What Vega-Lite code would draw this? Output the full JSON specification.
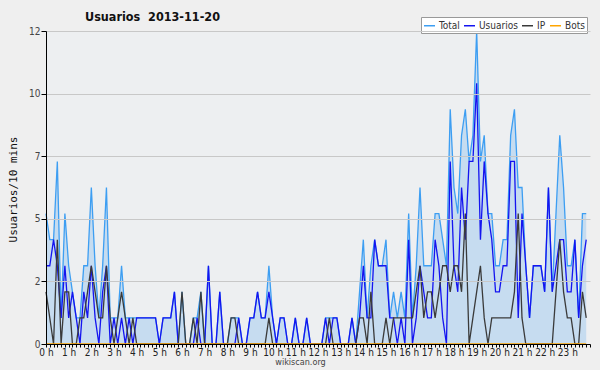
{
  "$schema": "https://vega.github.io/schema/vega-lite/v6.json",
  "width": 544,
  "height": 313,
  "autosize": {"type": "none"},
  "padding": {"left": 46, "top": 31, "right": 10, "bottom": 26},
  "background": "#efefef",
  "config": {"view": {"fill": "#edeff1", "stroke": null}, "font": "DejaVu Sans Condensed", "axis": {"labelOverlap": false}, "axisX": {"labelOverlap": false}},
  "title": {"text": "Usuarios\u00a0 2013-11-20", "anchor": "start", "frame": "group", "dx": 39, "dy": 14, "font": "DejaVu Sans Condensed", "fontSize": 12.5, "fontWeight": "bold", "color": "#111111", "offset": 7},
  "data": {"values": [
    {"s":0,"Total":5,"Usuarios":3,"IP":2,"Bots":0},{"s":1,"Total":4,"Usuarios":3,"IP":1,"Bots":0},{"s":2,"Total":4,"Usuarios":4,"IP":0,"Bots":0},{"s":3,"Total":7,"Usuarios":3,"IP":4,"Bots":0},{"s":4,"Total":1,"Usuarios":1,"IP":0,"Bots":0},{"s":5,"Total":5,"Usuarios":3,"IP":2,"Bots":0},{"s":6,"Total":3,"Usuarios":1,"IP":2,"Bots":0},{"s":7,"Total":2,"Usuarios":2,"IP":0,"Bots":0},{"s":8,"Total":1,"Usuarios":1,"IP":0,"Bots":0},{"s":9,"Total":1,"Usuarios":0,"IP":1,"Bots":0},
    {"s":10,"Total":3,"Usuarios":2,"IP":1,"Bots":0},{"s":11,"Total":3,"Usuarios":1,"IP":2,"Bots":0},{"s":12,"Total":6,"Usuarios":3,"IP":3,"Bots":0},{"s":13,"Total":3,"Usuarios":1,"IP":2,"Bots":0},{"s":14,"Total":1,"Usuarios":0,"IP":1,"Bots":0},{"s":15,"Total":3,"Usuarios":2,"IP":1,"Bots":0},{"s":16,"Total":6,"Usuarios":3,"IP":3,"Bots":0},{"s":17,"Total":1,"Usuarios":0,"IP":1,"Bots":0},{"s":18,"Total":1,"Usuarios":1,"IP":0,"Bots":0},{"s":19,"Total":1,"Usuarios":0,"IP":1,"Bots":0},
    {"s":20,"Total":3,"Usuarios":1,"IP":2,"Bots":0},{"s":21,"Total":1,"Usuarios":0,"IP":1,"Bots":0},{"s":22,"Total":1,"Usuarios":1,"IP":0,"Bots":0},{"s":23,"Total":1,"Usuarios":0,"IP":1,"Bots":0},{"s":24,"Total":1,"Usuarios":1,"IP":0,"Bots":0},{"s":25,"Total":1,"Usuarios":1,"IP":0,"Bots":0},{"s":26,"Total":1,"Usuarios":1,"IP":0,"Bots":0},{"s":27,"Total":1,"Usuarios":1,"IP":0,"Bots":0},{"s":28,"Total":1,"Usuarios":1,"IP":0,"Bots":0},{"s":29,"Total":1,"Usuarios":1,"IP":0,"Bots":0},
    {"s":30,"Total":0,"Usuarios":0,"IP":0,"Bots":0},{"s":31,"Total":1,"Usuarios":1,"IP":0,"Bots":0},{"s":32,"Total":1,"Usuarios":1,"IP":0,"Bots":0},{"s":33,"Total":1,"Usuarios":1,"IP":0,"Bots":0},{"s":34,"Total":2,"Usuarios":2,"IP":0,"Bots":0},{"s":35,"Total":0,"Usuarios":0,"IP":0,"Bots":0},{"s":36,"Total":2,"Usuarios":0,"IP":2,"Bots":0},{"s":37,"Total":0,"Usuarios":0,"IP":0,"Bots":0},{"s":38,"Total":0,"Usuarios":0,"IP":0,"Bots":0},{"s":39,"Total":1,"Usuarios":0,"IP":1,"Bots":0},
    {"s":40,"Total":1,"Usuarios":1,"IP":0,"Bots":0},{"s":41,"Total":2,"Usuarios":0,"IP":2,"Bots":0},{"s":42,"Total":0,"Usuarios":0,"IP":0,"Bots":0},{"s":43,"Total":3,"Usuarios":3,"IP":0,"Bots":0},{"s":44,"Total":0,"Usuarios":0,"IP":0,"Bots":0},{"s":45,"Total":0,"Usuarios":0,"IP":0,"Bots":0},{"s":46,"Total":2,"Usuarios":2,"IP":0,"Bots":0},{"s":47,"Total":0,"Usuarios":0,"IP":0,"Bots":0},{"s":48,"Total":0,"Usuarios":0,"IP":0,"Bots":0},{"s":49,"Total":1,"Usuarios":0,"IP":1,"Bots":0},
    {"s":50,"Total":1,"Usuarios":0,"IP":1,"Bots":0},{"s":51,"Total":1,"Usuarios":1,"IP":0,"Bots":0},{"s":52,"Total":0,"Usuarios":0,"IP":0,"Bots":0},{"s":53,"Total":0,"Usuarios":0,"IP":0,"Bots":0},{"s":54,"Total":1,"Usuarios":1,"IP":0,"Bots":0},{"s":55,"Total":1,"Usuarios":1,"IP":0,"Bots":0},{"s":56,"Total":2,"Usuarios":2,"IP":0,"Bots":0},{"s":57,"Total":1,"Usuarios":1,"IP":0,"Bots":0},{"s":58,"Total":1,"Usuarios":1,"IP":0,"Bots":0},{"s":59,"Total":3,"Usuarios":2,"IP":1,"Bots":0},
    {"s":60,"Total":1,"Usuarios":1,"IP":0,"Bots":0},{"s":61,"Total":0,"Usuarios":0,"IP":0,"Bots":0},{"s":62,"Total":1,"Usuarios":1,"IP":0,"Bots":0},{"s":63,"Total":1,"Usuarios":1,"IP":0,"Bots":0},{"s":64,"Total":0,"Usuarios":0,"IP":0,"Bots":0},{"s":65,"Total":0,"Usuarios":0,"IP":0,"Bots":0},{"s":66,"Total":1,"Usuarios":1,"IP":0,"Bots":0},{"s":67,"Total":0,"Usuarios":0,"IP":0,"Bots":0},{"s":68,"Total":0,"Usuarios":0,"IP":0,"Bots":0},{"s":69,"Total":1,"Usuarios":1,"IP":0,"Bots":0},
    {"s":70,"Total":0,"Usuarios":0,"IP":0,"Bots":0},{"s":71,"Total":0,"Usuarios":0,"IP":0,"Bots":0},{"s":72,"Total":0,"Usuarios":0,"IP":0,"Bots":0},{"s":73,"Total":0,"Usuarios":0,"IP":0,"Bots":0},{"s":74,"Total":1,"Usuarios":1,"IP":0,"Bots":0},{"s":75,"Total":1,"Usuarios":0,"IP":1,"Bots":0},{"s":76,"Total":1,"Usuarios":1,"IP":0,"Bots":0},{"s":77,"Total":1,"Usuarios":1,"IP":0,"Bots":0},{"s":78,"Total":0,"Usuarios":0,"IP":0,"Bots":0},{"s":79,"Total":0,"Usuarios":0,"IP":0,"Bots":0},
    {"s":80,"Total":0,"Usuarios":0,"IP":0,"Bots":0},{"s":81,"Total":1,"Usuarios":1,"IP":0,"Bots":0},{"s":82,"Total":0,"Usuarios":0,"IP":0,"Bots":0},{"s":83,"Total":2,"Usuarios":1,"IP":1,"Bots":0},{"s":84,"Total":4,"Usuarios":3,"IP":1,"Bots":0},{"s":85,"Total":1,"Usuarios":1,"IP":0,"Bots":0},{"s":86,"Total":3,"Usuarios":1,"IP":2,"Bots":0},{"s":87,"Total":4,"Usuarios":4,"IP":0,"Bots":0},{"s":88,"Total":3,"Usuarios":3,"IP":0,"Bots":0},{"s":89,"Total":3,"Usuarios":3,"IP":0,"Bots":0},
    {"s":90,"Total":4,"Usuarios":3,"IP":1,"Bots":0},{"s":91,"Total":1,"Usuarios":1,"IP":0,"Bots":0},{"s":92,"Total":2,"Usuarios":1,"IP":1,"Bots":0},{"s":93,"Total":1,"Usuarios":0,"IP":1,"Bots":0},{"s":94,"Total":2,"Usuarios":1,"IP":1,"Bots":0},{"s":95,"Total":1,"Usuarios":0,"IP":1,"Bots":0},{"s":96,"Total":5,"Usuarios":4,"IP":1,"Bots":0},{"s":97,"Total":1,"Usuarios":0,"IP":1,"Bots":0},{"s":98,"Total":3,"Usuarios":1,"IP":2,"Bots":0},{"s":99,"Total":6,"Usuarios":3,"IP":3,"Bots":0},
    {"s":100,"Total":3,"Usuarios":2,"IP":1,"Bots":0},{"s":101,"Total":3,"Usuarios":1,"IP":2,"Bots":0},{"s":102,"Total":3,"Usuarios":1,"IP":2,"Bots":0},{"s":103,"Total":5,"Usuarios":4,"IP":1,"Bots":0},{"s":104,"Total":5,"Usuarios":3,"IP":2,"Bots":0},{"s":105,"Total":4,"Usuarios":1,"IP":3,"Bots":0},{"s":106,"Total":3,"Usuarios":0,"IP":3,"Bots":0},{"s":107,"Total":9,"Usuarios":7,"IP":2,"Bots":0},{"s":108,"Total":6,"Usuarios":3,"IP":3,"Bots":0},{"s":109,"Total":5,"Usuarios":2,"IP":3,"Bots":0},
    {"s":110,"Total":8,"Usuarios":6,"IP":2,"Bots":0},{"s":111,"Total":9,"Usuarios":4,"IP":5,"Bots":0},{"s":112,"Total":7,"Usuarios":7,"IP":0,"Bots":0},{"s":113,"Total":8,"Usuarios":7,"IP":1,"Bots":0},{"s":114,"Total":12,"Usuarios":10,"IP":2,"Bots":0},{"s":115,"Total":7,"Usuarios":4,"IP":3,"Bots":0},{"s":116,"Total":8,"Usuarios":7,"IP":1,"Bots":0},{"s":117,"Total":5,"Usuarios":5,"IP":0,"Bots":0},{"s":118,"Total":5,"Usuarios":4,"IP":1,"Bots":0},{"s":119,"Total":3,"Usuarios":2,"IP":1,"Bots":0},
    {"s":120,"Total":3,"Usuarios":2,"IP":1,"Bots":0},{"s":121,"Total":4,"Usuarios":3,"IP":1,"Bots":0},{"s":122,"Total":4,"Usuarios":3,"IP":1,"Bots":0},{"s":123,"Total":8,"Usuarios":7,"IP":1,"Bots":0},{"s":124,"Total":9,"Usuarios":7,"IP":2,"Bots":0},{"s":125,"Total":6,"Usuarios":1,"IP":5,"Bots":0},{"s":126,"Total":6,"Usuarios":5,"IP":1,"Bots":0},{"s":127,"Total":3,"Usuarios":3,"IP":0,"Bots":0},{"s":128,"Total":1,"Usuarios":1,"IP":0,"Bots":0},{"s":129,"Total":3,"Usuarios":3,"IP":0,"Bots":0},
    {"s":130,"Total":3,"Usuarios":3,"IP":0,"Bots":0},{"s":131,"Total":3,"Usuarios":3,"IP":0,"Bots":0},{"s":132,"Total":2,"Usuarios":2,"IP":0,"Bots":0},{"s":133,"Total":6,"Usuarios":6,"IP":0,"Bots":0},{"s":134,"Total":2,"Usuarios":2,"IP":0,"Bots":0},{"s":135,"Total":5,"Usuarios":3,"IP":2,"Bots":0},{"s":136,"Total":8,"Usuarios":4,"IP":4,"Bots":0},{"s":137,"Total":6,"Usuarios":4,"IP":2,"Bots":0},{"s":138,"Total":3,"Usuarios":2,"IP":1,"Bots":0},{"s":139,"Total":3,"Usuarios":2,"IP":1,"Bots":0},
    {"s":140,"Total":4,"Usuarios":4,"IP":0,"Bots":0},{"s":141,"Total":1,"Usuarios":1,"IP":0,"Bots":0},{"s":142,"Total":5,"Usuarios":3,"IP":2,"Bots":0},{"s":143,"Total":5,"Usuarios":4,"IP":1,"Bots":0}
  ]},
  "encoding": {
    "x": {"field": "s", "type": "quantitative", "scale": {"domain": [0, 144], "nice": false, "zero": false},
      "axis": {
        "values": [0,1,2,3,4,5,6,7,8,9,10,11,12,13,14,15,16,17,18,19,20,21,22,23,24,25,26,27,28,29,30,31,32,33,34,35,36,37,38,39,40,41,42,43,44,45,46,47,48,49,50,51,52,53,54,55,56,57,58,59,60,61,62,63,64,65,66,67,68,69,70,71,72,73,74,75,76,77,78,79,80,81,82,83,84,85,86,87,88,89,90,91,92,93,94,95,96,97,98,99,100,101,102,103,104,105,106,107,108,109,110,111,112,113,114,115,116,117,118,119,120,121,122,123,124,125,126,127,128,129,130,131,132,133,134,135,136,137,138,139,140,141,142,143,144],
        "labelExpr": "datum.value % 6 == 0 && datum.value < 144 ? (datum.value / 6) + ' h' : ''",
        "labelOverlap": false, "labelFlush": false, "labelBound": false, "labelFont": "DejaVu Sans Condensed", "labelFontSize": 10, "labelColor": "#222222", "labelPadding": 0,
        "tickSize": 3, "tickColor": "#000000", "domainColor": "#000000", "grid": false, "zindex": 1,
        "title": "wikiscan.org", "titleX": 254, "titleY": 17, "titleAlign": "center", "titleBaseline": "middle",
        "titleFont": "DejaVu Sans Condensed", "titleFontSize": 9, "titleFontWeight": "normal", "titleColor": "#444444"
      }}
  },
  "layer": [
    {
      "mark": {"type": "area", "color": "#c6dcf0", "opacity": 1},
      "encoding": {
        "y": {"field": "Total", "type": "quantitative", "scale": {"domain": [0, 12], "nice": false},
          "axis": {
            "values": [0,0.6,1.2,1.8,2.4,3,3.6,4.2,4.8,5.4,6,6.6,7.2,7.8,8.4,9,9.6,10.2,10.8,11.4,12],
            "labelExpr": "abs(datum.value / 2.4 - round(datum.value / 2.4)) < 0.01 ? format(datum.value, '.0f') : ''",
            "labelOverlap": false,
            "tickSize": {"condition": {"test": "abs(datum.value / 2.4 - round(datum.value / 2.4)) < 0.01", "value": 5}, "value": 3},
            "gridOpacity": {"condition": {"test": "abs(datum.value / 2.4 - round(datum.value / 2.4)) < 0.01 && datum.value > 0", "value": 1}, "value": 0},
            "grid": true, "gridColor": "#c8c8c8", "tickColor": "#000000", "domainColor": "#000000", "zindex": 1,
            "labelFont": "DejaVu Sans Condensed", "labelFontSize": 10, "labelColor": "#444444", "labelPadding": 1,
            "title": "Usuarios/10 mins", "titleFont": "DejaVu Sans Mono", "titleFontSize": 11, "titleFontWeight": "normal", "titleColor": "#111111",
            "titleX": -33, "titleY": 158, "titleAngle": 270, "titleAlign": "center", "titleBaseline": "middle"
          }}
      }
    },
    {
      "transform": [{"fold": ["Total", "Usuarios", "IP", "Bots"], "as": ["serie", "v"]}],
      "mark": {"type": "line", "strokeWidth": 1.3},
      "encoding": {
        "y": {"field": "v", "type": "quantitative"},
        "color": {"field": "serie", "type": "nominal",
          "scale": {"domain": ["Total", "Usuarios", "IP", "Bots"], "range": ["#3d9ef2", "#1414f0", "#3a3a3a", "#ffa500"]},
          "legend": {"orient": "none", "legendX": 375, "legendY": -14, "direction": "horizontal", "title": null,
            "symbolType": "stroke", "symbolSize": 121, "symbolStrokeWidth": 1.5,
            "labelFont": "DejaVu Sans Condensed", "labelFontSize": 10, "labelColor": "#333333",
            "fillColor": "#ffffff", "strokeColor": "#999999", "padding": 2, "columnPadding": 1, "labelOffset": 3}
        }
      }
    },
    {
      "data": {"values": [{"label": "CC BY-SA 3.0"}]},
      "mark": {"type": "text", "align": "right", "baseline": "middle", "dy": 18, "fontSize": 7, "font": "DejaVu Sans Condensed", "color": "#444444"},
      "encoding": {
        "x": {"datum": 144},
        "y": {"datum": 0},
        "text": {"field": "label"}
      }
    }
  ]
}
